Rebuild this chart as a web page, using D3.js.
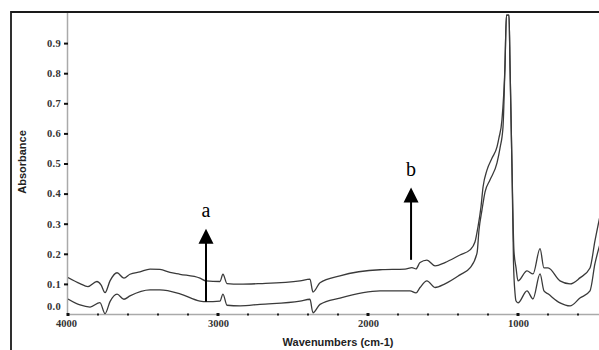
<!DOCTYPE html>
<html><head><meta charset="utf-8">
<script src="https://cdn.jsdelivr.net/npm/d3@7"></script>
<style>html,body{margin:0;padding:0;background:#fff;overflow:hidden}</style>
</head><body>
<script>
// Wavenumbers (cm-1) and absorbance
const upperWave = [4000,3920,3867,3807,3780,3753,3720,3673,3627,3587,3520,3453,3387,3320,3253,3120,3080,2987,2967,2940,2853,2720,2453,2387,2367,2320,2187,1920,1753,1707,1680,1653,1607,1553,1487,1387,1320,1287,1267,1247,1233,1207,1173,1140,1127,1107,1087,1077,1060,1053,1040,1027,1013,1000,940,900,853,827,800,720,653,587,520,487,453];
const upperAbs  = [0.121,0.101,0.091,0.108,0.097,0.071,0.11,0.137,0.119,0.132,0.14,0.149,0.148,0.138,0.132,0.119,0.11,0.108,0.132,0.101,0.099,0.101,0.11,0.116,0.073,0.104,0.127,0.147,0.149,0.154,0.15,0.171,0.179,0.16,0.171,0.196,0.213,0.239,0.289,0.355,0.422,0.478,0.518,0.555,0.585,0.645,0.82,0.993,0.993,0.82,0.487,0.21,0.153,0.11,0.143,0.133,0.217,0.153,0.153,0.11,0.1,0.12,0.153,0.243,0.327];
const lowerWave = [4000,3920,3853,3787,3753,3720,3673,3627,3587,3453,3387,3253,3120,3080,2987,2967,2940,2853,2720,2453,2387,2367,2320,2187,1920,1720,1680,1653,1607,1553,1487,1387,1320,1273,1260,1240,1220,1187,1140,1120,1100,1087,1077,1060,1053,1040,1030,1020,1013,1000,940,900,853,827,800,720,653,587,520,487,453];
const lowerAbs  = [0.05,0.03,0.023,0.038,0.001,0.041,0.066,0.049,0.06,0.08,0.08,0.067,0.043,0.041,0.043,0.066,0.029,0.027,0.032,0.043,0.049,0.004,0.032,0.053,0.077,0.077,0.07,0.088,0.11,0.088,0.1,0.13,0.153,0.203,0.279,0.346,0.405,0.445,0.502,0.551,0.621,0.82,0.993,0.993,0.82,0.487,0.17,0.07,0.043,0.037,0.077,0.05,0.133,0.077,0.067,0.037,0.027,0.053,0.077,0.167,0.233];
const xTicks = [4000,3000,2000,1000];
const yTicks = [0.0,0.1,0.2,0.3,0.4,0.5,0.6,0.7,0.8,0.9];
const annotations = [
  {label:"a", wave:3080, from:0.041, to:0.283},
  {label:"b", wave:1713, from:0.18, to:0.42}
];

const W = 599, H = 350;
const svg = d3.select("body").append("svg").attr("width", W).attr("height", H);

const x = d3.scaleLinear().domain([4000, 450]).range([68, 600.5]);
const y = d3.scaleLinear().domain([0, 1]).range([314, 13]);

// outer frame
svg.append("path").attr("d", `M11,${H+5} V12 H${W+5}`)
  .attr("fill","none").attr("stroke","#1a1a1a").attr("stroke-width",1.8);

// axis lines (grey)
svg.append("line").attr("x1",67.5).attr("x2",67.5).attr("y1",13).attr("y2",314.5)
  .attr("stroke","#aaa").attr("stroke-width",1.5);
svg.append("line").attr("x1",67).attr("x2",W+2).attr("y1",314.5).attr("y2",314.5)
  .attr("stroke","#aaa").attr("stroke-width",1.5);

// y ticks
const yAxis = d3.axisLeft(y).tickValues(yTicks).tickFormat(d3.format(".1f")).tickSize(4).tickPadding(3);
const gy = svg.append("g").attr("transform","translate(68,0)").call(yAxis);
gy.select(".domain").remove();
gy.selectAll(".tick line").attr("stroke","#111").attr("stroke-width",2);
gy.selectAll(".tick text").attr("font-family","Liberation Serif, Times New Roman, serif")
  .attr("font-weight","bold").attr("font-size",10.5).attr("fill","#333").attr("letter-spacing",0.3);
gy.selectAll(".tick").filter(d => d === 0).select("text").attr("dy","-0.4em");
gy.selectAll(".tick").filter(d => d === 0).select("line").remove();

// x minor ticks (dots every 200)
const minor = d3.range(4000, 449, -200);
svg.append("g").selectAll("rect").data(minor).join("rect")
  .attr("x", d => x(d) - 1).attr("y", 313.5).attr("width", 2).attr("height", 2)
  .attr("fill", "#222");
svg.append("g").selectAll("rect").data(xTicks).join("rect")
  .attr("x", d => x(d) - 1.5).attr("y", 313).attr("width", 3).attr("height", 3)
  .attr("fill", "#111");

// x tick labels
const xAxis = d3.axisBottom(x).tickValues(xTicks).tickFormat(d3.format("d")).tickSize(0).tickPadding(6);
const gx = svg.append("g").attr("transform","translate(0,314)").call(xAxis);
gx.select(".domain").remove();
gx.selectAll(".tick text").attr("font-family","Liberation Serif, Times New Roman, serif")
  .attr("font-weight","bold").attr("font-size",10.5).attr("fill","#333");
gx.selectAll(".tick").filter(d => d === 4000).select("text").attr("dx", -2);

// axis titles
svg.append("text").attr("x", 338).attr("y", 346).attr("text-anchor","middle")
  .attr("font-family","Liberation Sans, Arial, sans-serif").attr("font-weight","bold")
  .attr("font-size",11).attr("fill","#222").text("Wavenumbers (cm-1)");
svg.append("text").attr("transform","translate(26,162) rotate(-90)").attr("text-anchor","middle")
  .attr("font-family","Liberation Sans, Arial, sans-serif").attr("font-weight","bold")
  .attr("font-size",11).attr("fill","#222").text("Absorbance");

// spectra
const line = d3.line().x(d => x(d[0])).y(d => y(d[1])).curve(d3.curveMonotoneX);
const clip = svg.append("clipPath").attr("id","clip").append("rect")
  .attr("x",68).attr("y",12).attr("width",W).attr("height",303);
[[upperWave, upperAbs],[lowerWave, lowerAbs]].forEach(([w, a]) => {
  svg.append("path").datum(w.map((v,i) => [v, a[i]]))
    .attr("clip-path","url(#clip)")
    .attr("d", line).attr("fill","none").attr("stroke","#3a3a3a").attr("stroke-width",1.3);
});

// annotation arrows
annotations.forEach(an => {
  const ax = x(an.wave), y0 = y(an.from), y1 = y(an.to);
  svg.append("line").attr("x1",ax).attr("x2",ax).attr("y1",y0).attr("y2",y1+14)
    .attr("stroke","#000").attr("stroke-width",2);
  svg.append("path").attr("d",`M${ax},${y1} L${ax-7.5},${y1+15} L${ax+7.5},${y1+15} Z`).attr("fill","#000");
  svg.append("text").attr("x",ax).attr("y",y1-12).attr("text-anchor","middle")
    .attr("font-family","Liberation Serif, Times New Roman, serif").attr("font-size",20)
    .attr("fill","#000").text(an.label);
});
</script>
</body></html>
